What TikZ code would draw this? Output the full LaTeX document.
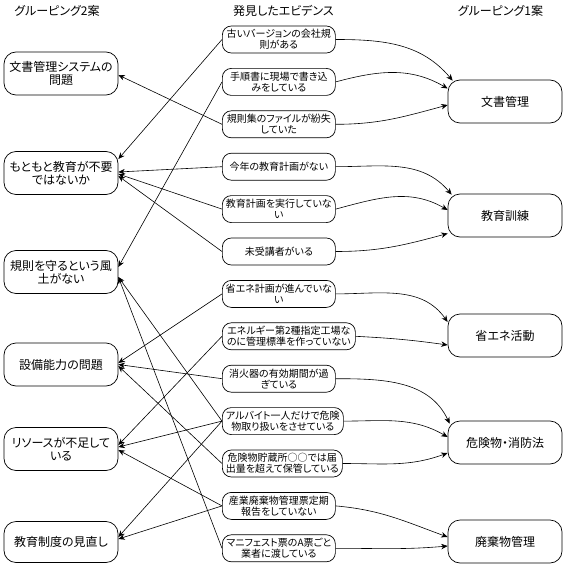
\documentclass[tikz,border=0pt]{standalone}
\usepackage{fontspec}
\setmainfont{Noto Sans CJK JP}[RawFeature=+palt]
\usetikzlibrary{arrows.meta}
\begin{document}
\begin{tikzpicture}[x=1pt,y=1pt,
  box/.style={draw,line width=0.7pt,rounded corners=12pt,minimum width=114pt,minimum height=43pt,align=center,inner sep=1pt,font=\fontsize{12}{13}\selectfont},
  ev/.style={draw,line width=0.7pt,rounded corners=9pt,minimum width=113pt,minimum height=27pt,align=center,inner sep=1pt,anchor=west,font=\fontsize{10}{10.8}\selectfont},
  hdr/.style={font=\fontsize{12}{13}\selectfont},
  link/.style={line width=0.6pt,-{Stealth[length=6.5pt,width=5.5pt]}},
]
\useasboundingbox (0,0) rectangle (563,-564);

\node[hdr] (h1) at (57,-11) {グルーピング2案};
\node[hdr] (h2) at (283.5,-11) {発見したエビデンス};
\node[hdr] (h3) at (500.5,-11) {グルーピング1案};

\node[box] (L1) at (61,-73.5) {文書管理システムの\\問題};
\node[box] (L2) at (61,-173) {もともと教育が不要\\ではないか};
\node[box] (L3) at (61,-272) {規則を守るという風\\土がない};
\node[box] (L4) at (61,-364.5) {設備能力の問題};
\node[box] (L5) at (61,-449) {リソースが不足して\\いる};
\node[box,minimum height=41pt] (L6) at (61,-542) {教育制度の見直し};

\node[ev] (m1) at (222,-39.5) {古いバージョンの会社規\\則がある};
\node[ev] (m2) at (222,-81.9) {手順書に現場で書き込\\みをしている};
\node[ev] (m3) at (222,-124.3) {規則集のファイルが紛失\\していた};
\node[ev] (m4) at (222,-166.7) {今年の教育計画がない};
\node[ev] (m5) at (222,-209.1) {教育計画を実行していな\\い};
\node[ev] (m6) at (222,-251.5) {未受講者がいる};
\node[ev] (m7) at (222,-293.9) {省エネ計画が進んでいな\\い};
\node[ev,minimum width=133pt] (m8) at (222,-336.3) {エネルギー第2種指定工場な\\のに管理標準を作っていない};
\node[ev] (m9) at (222,-378.7) {消火器の有効期間が過\\ぎている};
\node[ev,minimum width=121pt] (m10) at (222,-421.1) {アルバイト一人だけで危険\\物取り扱いをさせている};
\node[ev,minimum width=120pt] (m11) at (222,-463.5) {危険物貯蔵所○○では届\\出量を超えて保管している};
\node[ev] (m12) at (222,-505.9) {産業廃棄物管理票定期\\報告をしていない};
\node[ev] (m13) at (222,-548.3) {マニフェスト票のA票ごと\\業者に渡している};

\node[box] (R1) at (505,-101.5) {文書管理};
\node[box] (R2) at (505,-215.5) {教育訓練};
\node[box] (R3) at (505,-335.5) {省エネ活動};
\node[box] (R4) at (505,-442.5) {危険物・消防法};
\node[box] (R5) at (505,-541.5) {廃棄物管理};

% evidence -> grouping 2 (left)
\draw[link] (m1.west) -- ([yshift=14pt]L2.east);
\draw[link] (m2.west) -- ([yshift=5pt]L3.east);
\draw[link] (m3.west) -- ([yshift=-1.5pt]L1.east);
\draw[link] (m4.west) -- ([yshift=1pt]L2.east);
\draw[link] (m5.west) -- ([yshift=-1pt]L2.east);
\draw[link] (m6.west) -- ([yshift=-3pt]L2.east);
\draw[link] (m7.west) -- ([yshift=1.5pt]L4.east);
\draw[link] (m9.west) -- (L4.east);
\draw[link] (m11.west) -- ([yshift=-1.5pt]L4.east);
\draw[link] (m8.west) -- ([yshift=4pt]L5.east);
\draw[link] (m10.west) -- ([yshift=2pt]L5.east);
\draw[link] (m12.west) -- ([yshift=-1pt]L5.east);
\draw[link] (m10.west) -- ([yshift=5pt]L6.east);
\draw[link] (m12.west) -- ([yshift=3pt]L6.east);
\draw[link] (m10.west) -- ([yshift=-5pt]L3.east);
\draw[link] (m13.west) -- ([yshift=-5pt]L3.east);

% evidence -> grouping 1 (right)
\draw[link] (m1.east) to[out=0,in=130] ([xshift=5pt,yshift=-1pt]R1.north west);
\draw[link] (m2.east) to[out=15,in=150] ([yshift=13pt]R1.west);
\draw[link] (m3.east) to[out=0,in=195] ([yshift=-3.5pt]R1.west);
\draw[link] (m4.east) to[out=0,in=130] ([xshift=4pt,yshift=-1pt]R2.north west);
\draw[link] (m5.east) to[out=15,in=150] ([yshift=5.5pt]R2.west);
\draw[link] (m6.east) to[out=0,in=195] ([yshift=-18pt]R2.west);
\draw[link] (m7.east) to[out=0,in=125] ([yshift=13.5pt]R3.west);
\draw[link] (m8.east) to[out=-3,in=172] ([yshift=-9.5pt]R3.west);
\draw[link] (m9.east) to[out=0,in=115] ([xshift=2pt,yshift=-3pt]R4.north west);
\draw[link] (m10.east) to[out=0,in=150] ([yshift=5.5pt]R4.west);
\draw[link] (m11.east) to[out=0,in=200] ([yshift=-10.5pt]R4.west);
\draw[link] (m12.east) to[out=-5,in=160] ([yshift=4.5pt]R5.west);
\draw[link] (m13.east) to[out=0,in=185] ([yshift=-4.5pt]R5.west);
\end{tikzpicture}
\end{document}
